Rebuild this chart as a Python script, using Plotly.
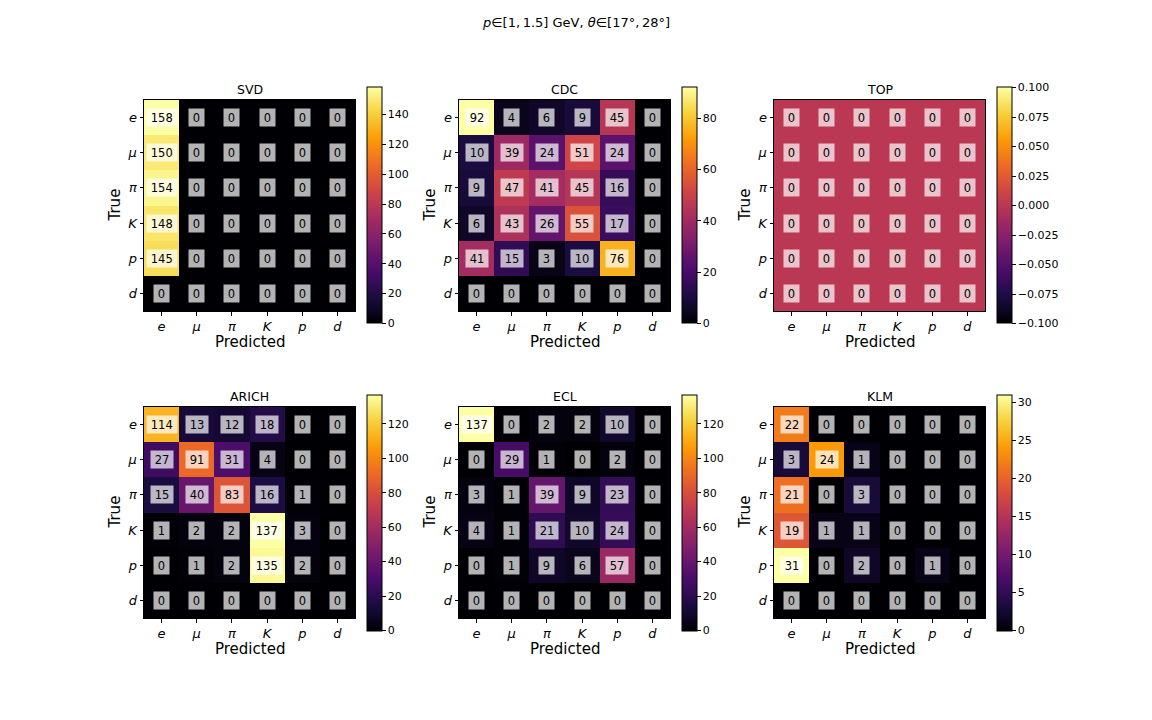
import plotly.graph_objects as go

labels = ["e", "μ", "π", "K", "p", "d"]
detectors = ["SVD", "CDC", "TOP", "ARICH", "ECL", "KLM"]

svd = [[158, 0, 0, 0, 0, 0],
       [150, 0, 0, 0, 0, 0],
       [154, 0, 0, 0, 0, 0],
       [148, 0, 0, 0, 0, 0],
       [145, 0, 0, 0, 0, 0],
       [0, 0, 0, 0, 0, 0]]
cdc = [[92, 4, 6, 9, 45, 0],
       [10, 39, 24, 51, 24, 0],
       [9, 47, 41, 45, 16, 0],
       [6, 43, 26, 55, 17, 0],
       [41, 15, 3, 10, 76, 0],
       [0, 0, 0, 0, 0, 0]]
top = [[0, 0, 0, 0, 0, 0] for _ in range(6)]
arich = [[114, 13, 12, 18, 0, 0],
         [27, 91, 31, 4, 0, 0],
         [15, 40, 83, 16, 1, 0],
         [1, 2, 2, 137, 3, 0],
         [0, 1, 2, 135, 2, 0],
         [0, 0, 0, 0, 0, 0]]
ecl = [[137, 0, 2, 2, 10, 0],
       [0, 29, 1, 0, 2, 0],
       [3, 1, 39, 9, 23, 0],
       [4, 1, 21, 10, 24, 0],
       [0, 1, 9, 6, 57, 0],
       [0, 0, 0, 0, 0, 0]]
klm = [[22, 0, 0, 0, 0, 0],
       [3, 24, 1, 0, 0, 0],
       [21, 0, 3, 0, 0, 0],
       [19, 1, 1, 0, 0, 0],
       [31, 0, 2, 0, 1, 0],
       [0, 0, 0, 0, 0, 0]]
matrices = [svd, cdc, top, arich, ecl, klm]
cbar_dtick = [20, 20, 0.025, 20, 20, 5]

W, H = 1152, 720
FONT = "DejaVu Sans"
col_left = [144, 459, 774]
row_top = [100, 407]
size = 211
cb_gap = 12
cb_w = 15
cb_len = 236
TS = "\u2009"

fig = go.Figure()
annotations = []
n = len(labels)
xs = list(range(n))

for k, (name, z) in enumerate(zip(detectors, matrices)):
    r, c = divmod(k, 3)
    x0 = col_left[c]
    y0 = row_top[r]
    ax = "" if k == 0 else str(k + 1)
    flat = [v for row in z for v in row]
    zmin, zmax = min(flat), max(flat)
    if zmin == zmax:
        zmin, zmax = zmin - 0.1, zmax + 0.1
    cb_center = y0 + size / 2
    fig.add_trace(go.Heatmap(
        z=z, x=xs, y=xs, zmin=zmin, zmax=zmax,
        colorscale="Inferno",
        xaxis="x" + ax, yaxis="y" + ax,
        hoverinfo="skip",
        colorbar=dict(
            x=(x0 + size + cb_gap) / W, xanchor="left",
            y=1 - cb_center / H, yanchor="middle",
            len=cb_len, lenmode="pixels",
            thickness=cb_w, thicknessmode="pixels",
            xpad=0, ypad=0,
            outlinewidth=1, outlinecolor="black",
            ticks="outside", ticklen=3.5, tickcolor="black",
            dtick=cbar_dtick[k],
            tick0=0,
            tickformat=".3f" if cbar_dtick[k] < 1 else "d",
            tickfont=dict(family=FONT, size=11, color="black"),
        ),
    ))
    axis_common = dict(
        tickmode="array", tickvals=xs,
        ticktext=[f"<i>{l}</i>" for l in labels],
        ticks="outside", ticklen=3.5, tickcolor="black",
        showline=True, linecolor="black", linewidth=1, mirror=True,
        showgrid=False, zeroline=False,
        tickfont=dict(family=FONT, size=13, color="black"),
    )
    fig.update_layout(**{
        "xaxis" + ax: dict(domain=[x0 / W, (x0 + size) / W], range=[-0.5, n - 0.5],
                           anchor="y" + ax, **axis_common),
        "yaxis" + ax: dict(domain=[1 - (y0 + size) / H, 1 - y0 / H], range=[n - 0.5, -0.5],
                           anchor="x" + ax, **axis_common),
    })
    for i in range(n):
        for j in range(n):
            annotations.append(dict(
                x=j, y=i, xref="x" + ax, yref="y" + ax,
                xanchor="center", yanchor="middle",
                text=TS + str(z[i][j]) + TS, showarrow=False,
                font=dict(family=FONT, size=11.5, color="black"),
                bgcolor="rgba(255,255,255,0.7)", borderpad=1.5,
            ))
    annotations.append(dict(
        x=(x0 + size / 2) / W, y=1 - (y0 - 11) / H, xref="paper", yref="paper",
        xanchor="center", yanchor="middle",
        text=name, showarrow=False, font=dict(family=FONT, size=12.5, color="black"),
    ))
    annotations.append(dict(
        x=(x0 + size / 2) / W, y=1 - (y0 + size + 31) / H, xref="paper", yref="paper",
        xanchor="center", yanchor="middle",
        text="Predicted", showarrow=False, font=dict(family=FONT, size=15, color="black"),
    ))
    annotations.append(dict(
        x=(x0 - 30) / W, y=1 - (y0 + size / 2) / H, xref="paper", yref="paper",
        xanchor="center", yanchor="middle",
        text="True", showarrow=False, textangle=-90,
        font=dict(family=FONT, size=15, color="black"),
    ))

annotations.append(dict(
    x=0.5, y=1 - 22 / H, xref="paper", yref="paper",
    xanchor="center", yanchor="middle",
    text="<i>p</i>∈[1,\u20091.5] GeV, <i>θ</i>∈[17°,\u200928°]",
    showarrow=False, font=dict(family=FONT, size=13, color="black"),
))

fig.update_layout(
    width=W, height=H,
    margin=dict(l=0, r=0, t=0, b=0),
    paper_bgcolor="white", plot_bgcolor="white",
    annotations=annotations,
    showlegend=False,
)

fig.write_html("out.html")
